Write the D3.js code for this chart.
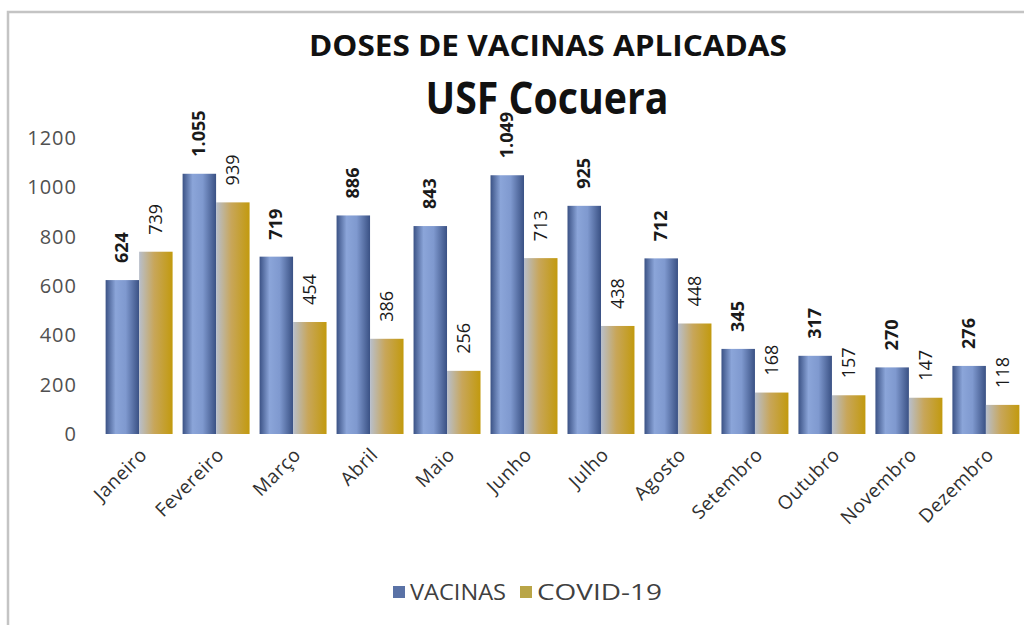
<!DOCTYPE html>
<html>
<head>
<meta charset="utf-8">
<script src="https://cdn.jsdelivr.net/npm/d3@7"></script>
<style>
  body { margin: 0; background: #fff; }
  svg { display: block; font-family: "Open Sans", "Noto Sans", sans-serif; }
</style>
</head>
<body>
<svg id="svg" width="1024" height="625"></svg>
<script>
// dados do gráfico
const meses = ["Janeiro", "Fevereiro", "Março", "Abril", "Maio", "Junho",
  "Julho", "Agosto", "Setembro", "Outubro", "Novembro", "Dezembro"];
const vacinas = [624, 1055, 719, 886, 843, 1049, 925, 712, 345, 317, 270, 276];
const covid = [739, 939, 454, 386, 256, 713, 438, 448, 168, 157, 147, 118];
const series = ["VACINAS", "COVID-19"];
const yTicks = [0, 200, 400, 600, 800, 1000, 1200];

function drawChart() {
  const svg = d3.select("#svg");

  //moldura
  svg.append("path")
    .attr("d", "M 8 625 L 8 12 L 1024 12")
    .attr("fill", "none")
    .attr("stroke", "#c4c4c4")
    .attr("stroke-width", 2.5);

  //gradientes das barras
  const defs = svg.append("defs");
  const gBlue = defs.append("linearGradient").attr("id", "grad-vac");
  [[0, "#3b5285"], [0.3, "#8ba5d9"], [0.6, "#7f99cf"], [1, "#3a5184"]]
    .forEach(s => gBlue.append("stop").attr("offset", s[0]).attr("stop-color", s[1]));
  const gGold = defs.append("linearGradient").attr("id", "grad-cov");
  [[0, "#b8bfcc"], [0.45, "#c8a65a"], [1, "#c29a0e"]]
    .forEach(s => gGold.append("stop").attr("offset", s[0]).attr("stop-color", s[1]));

  // escalas
  const x = d3.scaleBand().domain(meses).range([101, 1024]).paddingInner(0.13).paddingOuter(0.06);
  const xs = d3.scaleBand().domain(series).range([0, x.bandwidth()]);
  const y = d3.scaleLinear().domain([0, 1200]).range([434, 138]);

  //títulos
  svg.append("text")
    .attr("x", 548).attr("y", 56)
    .attr("text-anchor", "middle")
    .attr("font-size", 29).attr("font-weight", "bold")
    .attr("fill", "#111")
    .attr("textLength", 478).attr("lengthAdjust", "spacingAndGlyphs")
    .text("DOSES DE VACINAS APLICADAS");
  svg.append("text")
    .attr("x", 547).attr("y", 114)
    .attr("text-anchor", "middle")
    .attr("font-size", 45).attr("font-weight", "bold")
    .attr("fill", "#111")
    .attr("textLength", 243).attr("lengthAdjust", "spacingAndGlyphs")
    .text("USF Cocuera");

  // eixo y
  const yAxis = svg.append("g")
    .attr("transform", "translate(77,0)")
    .call(d3.axisLeft(y).tickValues(yTicks).tickSize(0).tickPadding(0).tickFormat(d3.format("d")));
  yAxis.select(".domain").remove();
  yAxis.selectAll("text")
    .attr("font-size", 20)
    .attr("letter-spacing", 1)
    .attr("font-family", "Open Sans, sans-serif")
    .attr("fill", "#505050");

  // eixo x
  const xAxis = svg.append("g")
    .attr("transform", "translate(0,434)")
    .call(d3.axisBottom(x).tickSize(0).tickPadding(0));
  xAxis.select(".domain").remove();
  xAxis.selectAll("text")
    .attr("font-size", 19)
    .attr("letter-spacing", 0.5)
    .attr("font-family", "Open Sans, sans-serif")
    .attr("fill", "#303030")
    .attr("text-anchor", "end")
    .attr("dy", 0)
    .attr("transform", "translate(9,22) rotate(-45)");

  const fmtVac = d3.formatLocale({ decimal: ",", thousands: ".", grouping: [3], currency: ["R$", ""] }).format(",d");

  const dados = meses.map((m, i) => ({ mes: m, vals: [
    { serie: "VACINAS", v: vacinas[i] },
    { serie: "COVID-19", v: covid[i] }
  ] }));

  const grupo = svg.append("g").selectAll("g")
    .data(dados)
    .join("g")
    .attr("transform", d => `translate(${x(d.mes)},0)`);

  grupo.selectAll("rect")
    .data(d => d.vals)
    .join("rect")
    .attr("x", d => xs(d.serie))
    .attr("y", d => y(d.v))
    .attr("width", xs.bandwidth())
    .attr("height", d => y(0) - y(d.v))
    .attr("fill", d => d.serie == "VACINAS" ? "url(#grad-vac)" : "url(#grad-cov)");

  // rótulos de valores
  grupo.selectAll("text")
    .data(d => d.vals)
    .join("text")
    .attr("transform", d => `translate(${xs(d.serie) + xs.bandwidth() / 2 + 6},${y(d.v) - 17}) rotate(-90)`)
    .attr("font-size", 18)
    .attr("font-weight", d => d.serie == "VACINAS" ? "bold" : "normal")
    .attr("fill", "#1a1a1a")
    .text(d => d.serie == "VACINAS" ? fmtVac(d.v) : d.v);

  //legenda
  const leg = svg.append("g").attr("transform", "translate(393,592)");
  const legX = [0, 127];
  const legW = [96, 125];
  series.forEach((s, i) => {
    leg.append("rect")
      .attr("x", legX[i]).attr("y", -6)
      .attr("width", 12).attr("height", 12)
      .attr("fill", i == 0 ? "#5a72a6" : "#b9a547");
    leg.append("text")
      .attr("x", legX[i] + 17).attr("y", 8)
      .attr("font-size", 21)
      .attr("fill", "#404040")
      .attr("textLength", legW[i]).attr("lengthAdjust", "spacingAndGlyphs")
      .text(s);
  });
}

drawChart();
</script>
</body>
</html>
